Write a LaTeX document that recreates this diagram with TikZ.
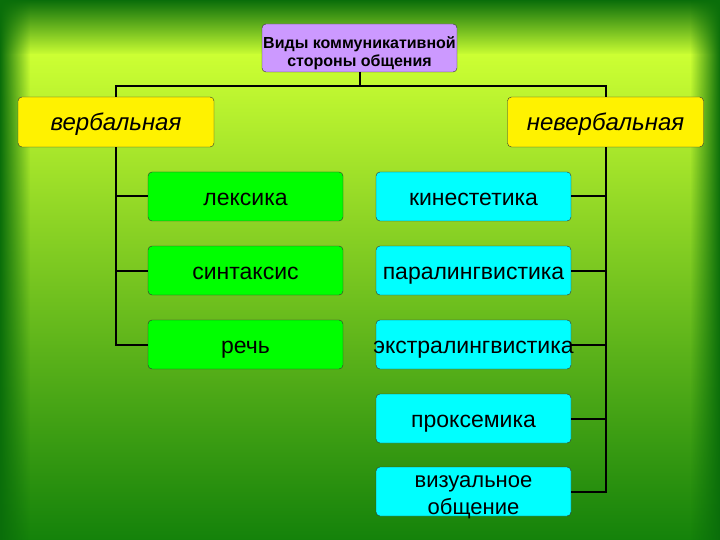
\documentclass[tikz,border=0pt]{standalone}
\usepackage{fontspec}
\setmainfont{Liberation Sans}
\usetikzlibrary{fadings}
\definecolor{lime}{RGB}{204,255,51}
\definecolor{olive}{RGB}{168,214,38}
\definecolor{darkgrn}{RGB}{20,130,10}
\definecolor{edge}{RGB}{10,110,10}
\definecolor{lilac}{RGB}{204,153,255}
\definecolor{brightgrn}{RGB}{0,255,0}
\definecolor{aqua}{RGB}{0,255,255}

\tikzset{
box/.style={draw=black!80, thin, rounded corners=4pt, minimum width=195pt, minimum height=49pt, inner sep=0pt},
oneline/.style={text height=19pt, text depth=1pt},
topbox/.style={box, fill=lilac, minimum height=48pt, font=\fontsize{16}{18}\selectfont\bfseries},
sidebox/.style={box, oneline, fill=yellow, minimum width=196pt, minimum height=50pt, font=\fontsize{24}{28}\selectfont\itshape},
verbbox/.style={box, oneline, fill=brightgrn, font=\fontsize{23}{26}\selectfont},
nonvbox/.style={box, oneline, fill=aqua, font=\fontsize{23}{26}\selectfont},
link/.style={draw=black, line width=2pt}
}

\begin{document}
\begin{tikzpicture}[x=1pt,y=-1pt]
% background
\useasboundingbox (0,0) rectangle (720,540);
\shade [top color=edge, bottom color=lime] (0,0) rectangle (720,55);
\shade [top color=lime, middle color=olive, bottom color=darkgrn] (0,55) rectangle (720,540);
\fill [edge, path fading=east] (0,0) rectangle (30,540);
\fill [edge, path fading=west] (690,0) rectangle (720,540);

% nodes
\node [topbox] (top) at (359.5,48) {\raisebox{-5pt}[\height][\depth]{\parbox{195pt}{\centering Виды коммуникативной\\стороны общения}}};
\node [sidebox] (verb) at (116,122) {вербальная};
\node [sidebox] (nonverb) at (605.5,122) {невербальная};

\node [verbbox] (lex) at (245.5,196.5) {лексика};
\node [verbbox] (syn) at (245.5,270.5) {синтаксис};
\node [verbbox] (speech) at (245.5,344.5) {речь};

\node [nonvbox] (kin) at (473.5,196.5) {кинестетика};
\node [nonvbox] (para) at (473.5,270.5) {паралингвистика};
\node [nonvbox] (extra) at (473.5,344.5) {\makebox[190pt]{экстралингвистика}};
\node [nonvbox] (prox) at (473.5,418.5) {проксемика};
\node [box, fill=aqua, font=\fontsize{22}{27}\selectfont] (vis) at (473.5,491.5) {\raisebox{-6pt}[\height][\depth]{\parbox{195pt}{\centering визуальное\\общение}}};

% connectors
\draw [link] (top.south) -- ++(0,14) coordinate (bar) -| (verb.north);
\draw [link] (bar) -| (nonverb.north);
\foreach \n in {lex,syn,speech}
  \draw [link] (verb.south) |- (\n.west);
\foreach \n in {kin,para,extra,prox,vis}
  \draw [link] (nonverb.south) |- (\n.east);
\end{tikzpicture}
\end{document}
